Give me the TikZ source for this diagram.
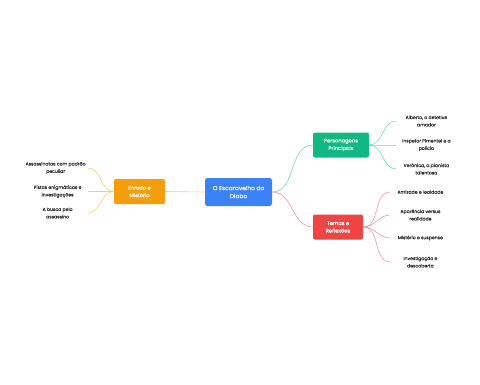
\documentclass[tikz,border=0pt]{standalone}
\usepackage{fontspec}
\setmainfont{Poppins}
\newfontfamily\boxfont{Poppins}[FakeBold=0.4]
\newfontfamily\leaffont{Poppins}[FakeBold=0.15]
\usetikzlibrary{positioning}
\definecolor{rootblue}{RGB}{59,130,246}
\definecolor{topicgreen}{RGB}{16,185,129}
\definecolor{topicred}{RGB}{239,68,68}
\definecolor{topicorange}{RGB}{245,158,11}
\definecolor{linkgreen}{RGB}{120,214,186}
\definecolor{linkred}{RGB}{242,150,160}
\definecolor{linkorange}{RGB}{249,200,120}
\definecolor{leafgray}{RGB}{45,45,45}
\tikzset{
  rootbox/.style={rounded corners=2.5pt, fill=rootblue, text=white, align=center,
                  minimum width=67pt, minimum height=28pt, inner sep=1pt,
                  font=\boxfont\fontsize{5.9}{8}\selectfont},
  topicbox/.style={rounded corners=2pt, text=white, align=center,
                  minimum height=25pt, inner sep=1pt, font=\boxfont\fontsize{5.2}{7.5}\selectfont},
  leaf/.style={text=leafgray, align=center, minimum width=60pt, inner sep=2pt,
               font=\leaffont\fontsize{4.6}{7.4}\selectfont},
  glink/.style={draw=linkgreen, line width=0.6pt},
  rlink/.style={draw=linkred, line width=0.6pt},
  olink/.style={draw=linkorange, line width=0.6pt},
}
\begin{document}
\begin{tikzpicture}[x=1pt, y=-1pt]
    \useasboundingbox (0,0) rectangle (480,384);
    % centre and main topics
    \node[rootbox] (root) at (238.5,192) {O Escaravelho do\\Diabo};
    \node[topicbox, fill=topicgreen, minimum width=56pt] (pers) at (341,145) {Personagens\\Principais};
    \node[topicbox, fill=topicred, minimum width=50pt] (temas) at (338,227) {Temas e\\Reflexões};
    \node[topicbox, fill=topicorange, minimum width=51pt] (enredo) at (139.5,191.5) {Enredo e\\Mistério};
    \draw[glink] (root.east) to[out=0, in=180] (pers.west);
    \draw[rlink] (root.east) to[out=0, in=180] (temas.west);
    \draw[olink] (root.west) -- (enredo.east);
    % characters
    \node[leaf, right=27pt of pers, yshift=24pt] (p1) {Alberto, o detetive\\amador};
    \node[leaf, right=27pt of pers] (p2) {Inspetor Pimentel e a\\polícia};
    \node[leaf, right=27pt of pers, yshift=-24pt] (p3) {Verônica, a pianista\\talentosa};
    \foreach \n in {p1,p2,p3}
      \draw[glink] (pers.east) to[out=0, in=180] (\n.west);
    % themes
    \node[leaf, right=27pt of temas, yshift=35pt] (t1) {Amizade e lealdade};
    \node[leaf, right=27pt of temas, yshift=12pt] (t2) {Aparência versus\\realidade};
    \node[leaf, right=27pt of temas, yshift=-11pt] (t3) {Mistério e suspense};
    \node[leaf, right=27pt of temas, yshift=-35pt] (t4) {Investigação e\\descoberta};
    \foreach \n in {t1,t2,t3,t4}
      \draw[rlink] (temas.east) to[out=0, in=180] (\n.west);
    % plot
    \node[leaf, left=26pt of enredo, yshift=23.5pt] (e1) {Assassinatos com padrão\\peculiar};
    \node[leaf, left=26pt of enredo] (e2) {Pistas enigmáticas e\\investigações};
    \node[leaf, left=26pt of enredo, yshift=-21.5pt] (e3) {A busca pelo\\assassino};
    \foreach \n in {e1,e2,e3}
      \draw[olink] (enredo.west) to[out=180, in=0] (\n.east);
  \end{tikzpicture}
\end{document}
